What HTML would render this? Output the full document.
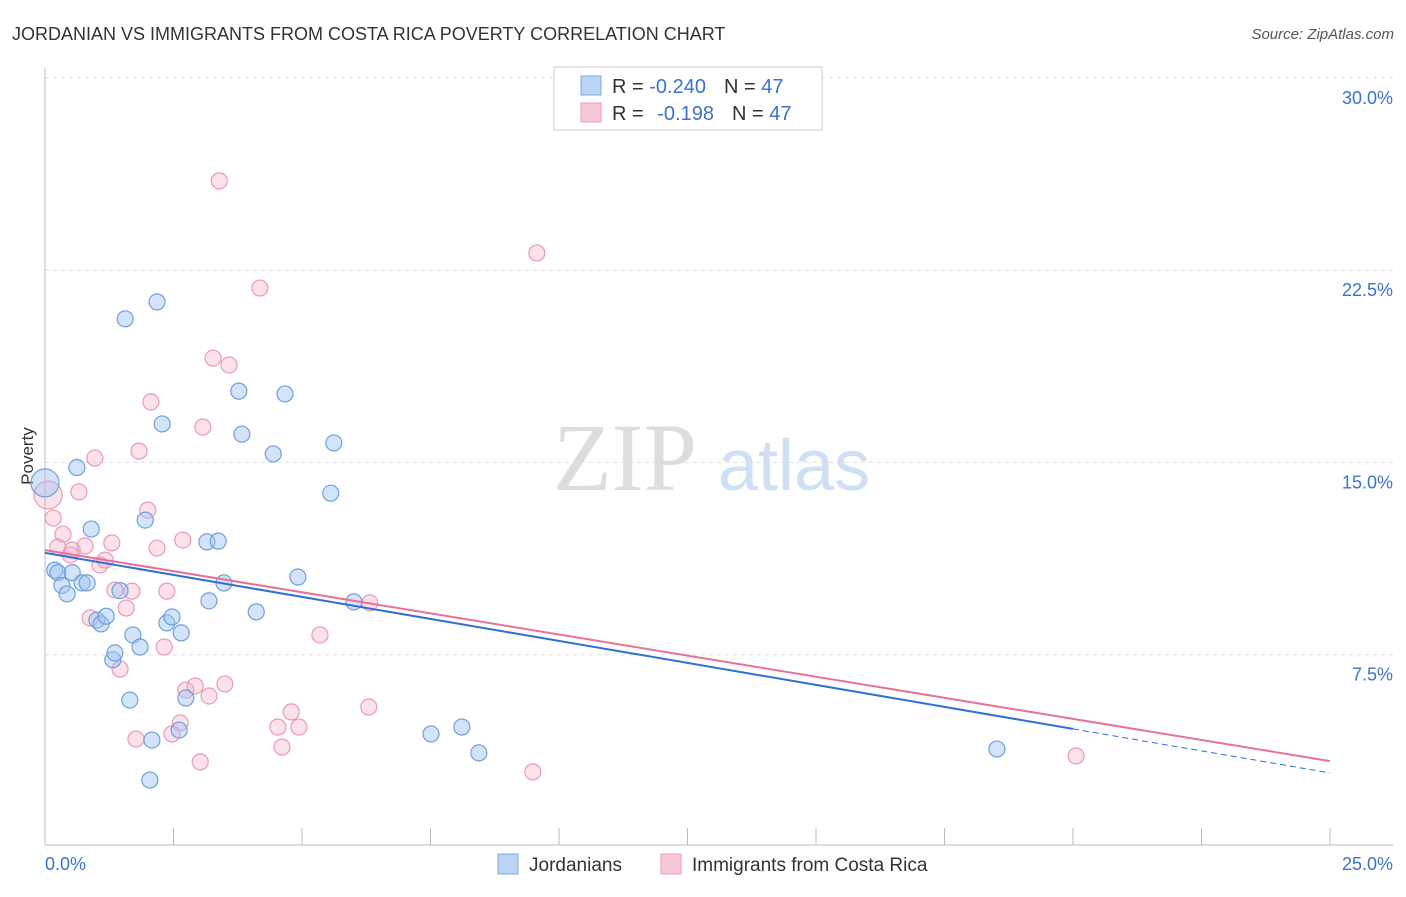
<!DOCTYPE html>
<html><head><meta charset="utf-8"><style>
body{margin:0;background:#fff;font-family:"Liberation Sans",sans-serif}
</style></head><body>
<svg id="c" width="1406" height="892" xmlns="http://www.w3.org/2000/svg" style="font-family:'Liberation Sans',sans-serif">
<text x="12" y="40" font-size="18" fill="#333">JORDANIAN VS IMMIGRANTS FROM COSTA RICA POVERTY CORRELATION CHART</text>
<text x="1394" y="39" font-size="15" fill="#555" font-style="italic" text-anchor="end">Source: ZipAtlas.com</text>
<text x="33" y="456" font-size="17" fill="#333" transform="rotate(-90 33 456)" text-anchor="middle">Poverty</text>
<g><text x="553" y="490" font-size="96" fill="#ddd" font-family="'Liberation Serif',serif">ZIP</text><text x="718" y="490" font-size="72" fill="#cfe0f5">atlas</text></g>
<g id="grid"></g><g id="pts"></g><g id="trend"></g>
<g>
<rect x="554" y="67" width="268" height="63" fill="#fff" stroke="#ccc"/>
<rect x="581" y="76" width="20" height="19" fill="#bcd4f5" stroke="#7aa7e0"/>
<rect x="581" y="103" width="20" height="19" fill="#f9c8d8" stroke="#e99ab5"/>
<text x="612" y="93" font-size="20" fill="#333">R = <tspan fill="#3a72d0">-0.240</tspan><tspan dx="18">N = </tspan><tspan fill="#3a72d0">47</tspan></text>
<text x="612" y="120" font-size="20" fill="#333">R = <tspan fill="#3a72d0" dx="8">-0.198</tspan><tspan dx="18">N = </tspan><tspan fill="#3a72d0">47</tspan></text>
</g>
<g>
<rect x="498" y="854" width="20" height="20" fill="#bcd4f5" stroke="#7aa7e0"/>
<text x="529" y="871" font-size="19" fill="#333">Jordanians</text>
<rect x="661" y="854" width="20" height="20" fill="#f9c8d8" stroke="#e99ab5"/>
<text x="692" y="871" font-size="19" fill="#333">Immigrants from Costa Rica</text>
</g>
</svg>
<script>
const yTicks=[7.5,15,22.5,30];
const yTickLabels=["7.5%","15.0%","22.5%","30.0%"];
const xTicks=[0,2.5,5,7.5,10,12.5,15,17.5,20,22.5,25];
const blueX=[0,0.19,0.25,0.33,0.43,0.53,0.62,0.72,0.82,0.9,1.01,1.09,1.19,1.32,1.36,1.46,1.56,1.65,1.71,1.85,1.95,2.08,2.04,2.18,2.28,2.37,2.47,2.61,2.65,2.74,3.15,3.19,3.37,3.48,3.77,3.83,4.11,4.44,4.67,4.92,5.56,5.62,6.01,7.51,8.11,8.44,18.52];
const blueY=[14.2,10.8,10.7,10.2,9.87,10.7,14.8,10.3,10.3,12.4,8.85,8.7,9.0,7.3,7.57,10.0,20.6,5.73,8.27,7.8,12.75,4.17,2.61,21.26,16.5,8.74,8.97,4.56,8.35,5.81,11.9,9.6,11.93,10.3,17.78,16.1,9.17,15.33,17.67,10.53,13.8,15.76,9.56,4.41,4.68,3.67,3.82];
const pinkX=[0.06,0.16,0.25,0.35,0.49,0.53,0.66,0.78,0.88,0.97,1.07,1.17,1.3,1.36,1.46,1.58,1.69,1.77,1.83,2.0,2.06,2.18,2.32,2.37,2.47,2.63,2.68,2.74,2.92,3.02,3.07,3.19,3.27,3.39,3.5,3.58,4.18,4.53,4.61,4.79,4.94,5.35,6.3,6.32,9.49,9.57,20.06];
const pinkY=[13.73,12.83,11.7,12.2,11.39,11.58,13.85,11.74,8.93,15.17,11.0,11.19,11.86,10.02,6.94,9.32,9.98,4.21,15.44,13.14,17.36,11.66,7.8,9.98,4.41,4.84,11.97,6.12,6.28,3.32,16.38,5.89,19.07,25.98,6.36,18.8,21.8,4.68,3.9,5.27,4.68,8.27,5.46,9.52,2.93,23.17,3.55];
const blueTrend=[11.47,2.89];
const pinkTrend=[11.58,3.35];
const X=v=>45+v*51.4, Y=v=>847-v*25.64;
const NS="http://www.w3.org/2000/svg";
function mk(t,a,p){const e=document.createElementNS(NS,t);for(const k in a)e.setAttribute(k,a[k]);p.appendChild(e);return e;}
const g=document.getElementById('grid');
yTicks.forEach((v,i)=>{
 const l=mk('line',{x1:45,x2:1393,y1:Y(v),y2:Y(v),stroke:'#ddd','stroke-dasharray':'4,4'},g);
 
 
 const t=mk('text',{x:1393,y:Y(v)+26,'font-size':18,fill:'#3a72d0','text-anchor':'end'},g);
 t.textContent=yTickLabels[i];
 
 
});
mk('line',{x1:45,x2:45,y1:68,y2:845,stroke:'#bbb'},g);
mk('line',{x1:45,x2:1393,y1:845,y2:845,stroke:'#bbb'},g);
xTicks.forEach(v=>{const l=mk('line',{x1:X(v),x2:X(v),y1:828,y2:845,stroke:'#bbb'},g);
 
 });
let t=mk('text',{x:45,y:870,'font-size':18,fill:'#3a72d0'},g);t.textContent='0.0%';


t=mk('text',{x:1393,y:870,'font-size':18,fill:'#3a72d0','text-anchor':'end'},g);t.textContent='25.0%';


const p=document.getElementById('pts');
function pts(xs,ys,fill,stroke,name){xs.forEach((x,i)=>{
 const c=mk('circle',{cx:X(x),cy:Y(ys[i]),r:i===0?14:8,fill:fill,stroke:stroke,'stroke-width':1.2},p);
 
 });}
pts(pinkX,pinkY,'rgba(244,170,195,0.35)','#e99ab5','costa-rica-point');
pts(blueX,blueY,'rgba(160,196,240,0.45)','#6f9fdc','jordanian-point');
const tr=document.getElementById('trend');
const bAt=v=>blueTrend[0]+(blueTrend[1]-blueTrend[0])*v/25;
let l=mk('line',{x1:X(0),y1:Y(bAt(0)),x2:X(20),y2:Y(bAt(20)),stroke:'#2f6fd6','stroke-width':2},tr);


l=mk('line',{x1:X(20),y1:Y(bAt(20)),x2:X(25),y2:Y(bAt(25)),stroke:'#2f6fd6','stroke-width':1,'stroke-dasharray':'6,4'},tr);


l=mk('line',{x1:X(0),y1:Y(pinkTrend[0]),x2:X(25),y2:Y(pinkTrend[1]),stroke:'#e8719a','stroke-width':2},tr);


</script>
</body></html>
